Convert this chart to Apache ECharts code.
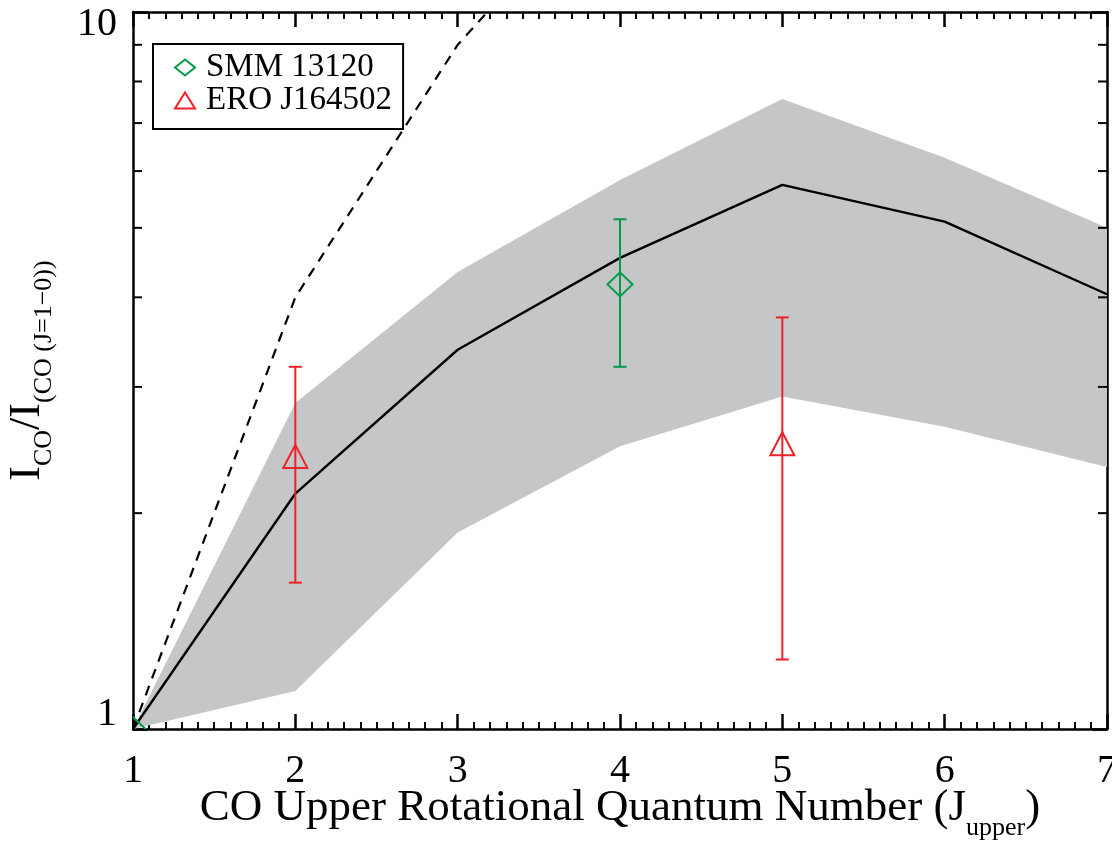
<!DOCTYPE html>
<html>
<head>
<meta charset="utf-8">
<script src="https://cdn.jsdelivr.net/npm/echarts@6/dist/echarts.min.js"></script>
<style>
html,body{margin:0;padding:0;background:#fff;}
#chart{width:1112px;height:846px;}
</style>
</head>
<body>
<div id="chart"></div>
<script>
// ---- data ----
const jValues     = [1, 2, 3, 4, 5, 6, 7];
const meanRatio   = [1.00, 2.13, 3.38, 4.54, 5.74, 5.10, 4.04];
const bandUpper   = [1.00, 2.85, 4.34, 5.83, 7.56, 6.26, 5.00];
const bandLower   = [1.00, 1.13, 1.88, 2.48, 2.91, 2.64, 2.32];
const thermalJ    = [1, 2, 3, 4];
const thermalRatio= [1, 4, 9, 16];
const smmJ        = [1, 4];
const smmRatio    = [1.00, 4.17];
const smmErr      = [0, 0.97];
const eroJ        = [2, 5];
const eroRatio    = [2.40, 2.50];
const eroErr      = [0.80, 1.25];
const yMinorTicks = [2, 3, 4, 5, 6, 7, 8, 9];
const xMin = 1, xMax = 7, yMin = 1, yMax = 10;

const FONT = 'Liberation Serif';
const GREEN = '#009b48';
const RED = '#ee2028';
const GRAY = '#c5c6c8';

const chart = echarts.init(document.getElementById('chart'), null, {renderer: 'canvas'});

function markerSeries(name, xs, ys, errs, color, shape) {
  return {
    type: 'custom',
    name: name,
    clip: true,
    z: 10,
    encode: {x: 0, y: 1},
    data: xs.map((x, i) => [x, ys[i], errs[i]]),
    renderItem: function (params, api) {
      const x = api.value(0), y = api.value(1), e = api.value(2);
      const c = api.coord([x, y]);
      const children = [];
      if (e > 0) {
        const t = api.coord([x, y + e]);
        const b = api.coord([x, y - e]);
        const hw = 6.5;
        const ls = {stroke: color, lineWidth: 2};
        children.push({type: 'line', shape: {x1: t[0], y1: t[1], x2: b[0], y2: b[1]}, style: ls});
        children.push({type: 'line', shape: {x1: t[0] - hw, y1: t[1], x2: t[0] + hw, y2: t[1]}, style: ls});
        children.push({type: 'line', shape: {x1: b[0] - hw, y1: b[1], x2: b[0] + hw, y2: b[1]}, style: ls});
      }
      let pts;
      if (shape === 'diamond') {
        pts = [[c[0], c[1] - 12], [c[0] + 12.5, c[1]], [c[0], c[1] + 12], [c[0] - 12.5, c[1]]];
      } else {
        pts = [[c[0], c[1] - 11.5], [c[0] + 12, c[1] + 11.5], [c[0] - 12, c[1] + 11.5]];
      }
      children.push({type: 'polygon', shape: {points: pts}, style: {fill: 'none', stroke: color, lineWidth: 2}});
      return {type: 'group', children: children};
    }
  };
}

const option = {
  animation: false,
  backgroundColor: '#fff',
  grid: {left: 133, right: 5, top: 12, bottom: 117, containLabel: false, outerBoundsMode: 'none'},
  legend: {
    left: 153, top: 44,
    orient: 'vertical',
    padding: [7, 11, 12, 21],
    itemGap: 0,
    itemWidth: 20, itemHeight: 16,
    borderColor: '#000', borderWidth: 2,
    backgroundColor: '#fff',
    selectedMode: false,
    textStyle: {fontFamily: FONT, fontSize: 33, lineHeight: 33, color: '#000', padding: [0, 0, 0, 6]},
    data: [
      {name: 'SMM 13120', icon: 'diamond', itemStyle: {color: 'rgba(0,0,0,0)', borderColor: GREEN, borderWidth: 2}},
      {name: 'ERO J164502', icon: 'triangle', itemStyle: {color: 'rgba(0,0,0,0)', borderColor: RED, borderWidth: 2}}
    ]
  },
  xAxis: [{
    type: 'value', min: xMin, max: xMax, interval: 1, position: 'bottom',
    name: '{m|CO Upper Rotational Quantum Number (J}{s|upper}{m|)}',
    nameLocation: 'middle', nameGap: 57, nameMoveOverlap: false,
    nameTextStyle: {
      fontFamily: FONT, fontSize: 45, color: '#000',
      rich: {
        m: {fontFamily: FONT, fontSize: 45, lineHeight: 45, color: '#000'},
        s: {fontFamily: FONT, fontSize: 26, lineHeight: 26, color: '#000', padding: [40, 0, 0, 0]}
      }
    },
    axisLine: {show: true, lineStyle: {color: '#000', width: 2.5}},
    axisTick: {show: true, inside: true, length: 15, lineStyle: {color: '#000', width: 2.5}},
    minorTick: {show: true, splitNumber: 10, length: 7, lineStyle: {color: '#000', width: 2}},
    axisLabel: {show: true, margin: 22, fontFamily: FONT, fontSize: 40, color: '#000'},
    splitLine: {show: false}, minorSplitLine: {show: false}
  }, {
    type: 'value', min: xMin, max: xMax, interval: 1, position: 'top',
    axisLine: {show: true, lineStyle: {color: '#000', width: 2.5}},
    axisTick: {show: true, inside: true, length: 15, lineStyle: {color: '#000', width: 2.5}},
    minorTick: {show: true, splitNumber: 10, length: 7, lineStyle: {color: '#000', width: 2}},
    axisLabel: {show: false},
    splitLine: {show: false}
  }],
  yAxis: [{
    type: 'log', logBase: 10, min: yMin, max: yMax, position: 'left',
    name: '{m|I}{s|CO}{m|/I}{s|(CO (J=1\u22120))}',
    nameLocation: 'middle', nameGap: 84, nameRotate: 90, nameMoveOverlap: false,
    nameTextStyle: {
      fontFamily: FONT, fontSize: 44, color: '#000',
      rich: {
        m: {fontFamily: FONT, fontSize: 44, lineHeight: 44, color: '#000'},
        s: {fontFamily: FONT, fontSize: 26, lineHeight: 26, color: '#000', padding: [34, 0, 0, 0]}
      }
    },
    axisLine: {show: true, lineStyle: {color: '#000', width: 2.5}},
    axisTick: {show: true, inside: true, length: 15, lineStyle: {color: '#000', width: 2.5}},
    axisLabel: {
      show: true, margin: 16, fontFamily: FONT, fontSize: 40, color: '#000',
      formatter: function (v) {
        const r = Math.round(v);
        if (r === 10) return '{hi|10}';
        if (r === 1) return '{lo|1}';
        return '';
      },
      rich: {
        hi: {fontFamily: FONT, fontSize: 40, color: '#000', padding: [24, 0, 0, 0]},
        lo: {fontFamily: FONT, fontSize: 40, color: '#000', padding: [0, 0, 30, 0]}
      }
    },
    splitLine: {show: false}
  }, {
    type: 'log', logBase: 10, min: yMin, max: yMax, position: 'right',
    axisLine: {show: true, lineStyle: {color: '#000', width: 2.5}},
    axisTick: {show: true, inside: true, length: 15, lineStyle: {color: '#000', width: 2.5}},
    axisLabel: {show: false},
    splitLine: {show: false}
  }],
  series: [
    {
      type: 'custom',
      name: 'band',
      clip: true,
      z: 1,
      encode: {x: 0, y: [1, 2]},
      data: jValues.map((j, i) => [j, bandLower[i], bandUpper[i]]),
      renderItem: function (params, api) {
        if (params.dataIndex !== 0) return null;
        const pts = [];
        for (let i = 0; i < jValues.length; i++) pts.push(api.coord([jValues[i], bandUpper[i]]));
        for (let i = jValues.length - 1; i >= 0; i--) pts.push(api.coord([jValues[i], bandLower[i]]));
        return {type: 'polygon', shape: {points: pts}, style: {fill: GRAY, stroke: 'none'}};
      }
    },
    {
      type: 'line',
      name: 'mean',
      z: 3,
      symbol: 'none',
      clip: true,
      data: jValues.map((j, i) => [j, meanRatio[i]]),
      lineStyle: {color: '#000', width: 2.4}
    },
    {
      type: 'line',
      name: 'thermal',
      z: 3,
      symbol: 'none',
      clip: true,
      data: thermalJ.map((j, i) => [j, thermalRatio[i]]),
      lineStyle: {color: '#000', width: 2.2, type: [10, 8]}
    },
    {
      type: 'custom',
      name: 'yminor',
      z: 20,
      clip: false,
      encode: {x: 0, y: 1},
      data: yMinorTicks.map(v => [xMin, v]),
      renderItem: function (params, api) {
        const v = api.value(1);
        const l = api.coord([xMin, v]);
        const r = api.coord([xMax, v]);
        const ls = {stroke: '#000', lineWidth: 2};
        return {type: 'group', children: [
          {type: 'line', shape: {x1: l[0], y1: l[1], x2: l[0] + 9, y2: l[1]}, style: ls},
          {type: 'line', shape: {x1: r[0] - 9, y1: r[1], x2: r[0], y2: r[1]}, style: ls}
        ]};
      }
    },
    markerSeries('SMM 13120', smmJ, smmRatio, smmErr, GREEN, 'diamond'),
    markerSeries('ERO J164502', eroJ, eroRatio, eroErr, RED, 'triangle')
  ]
};
chart.setOption(option);
</script>
</body>
</html>
